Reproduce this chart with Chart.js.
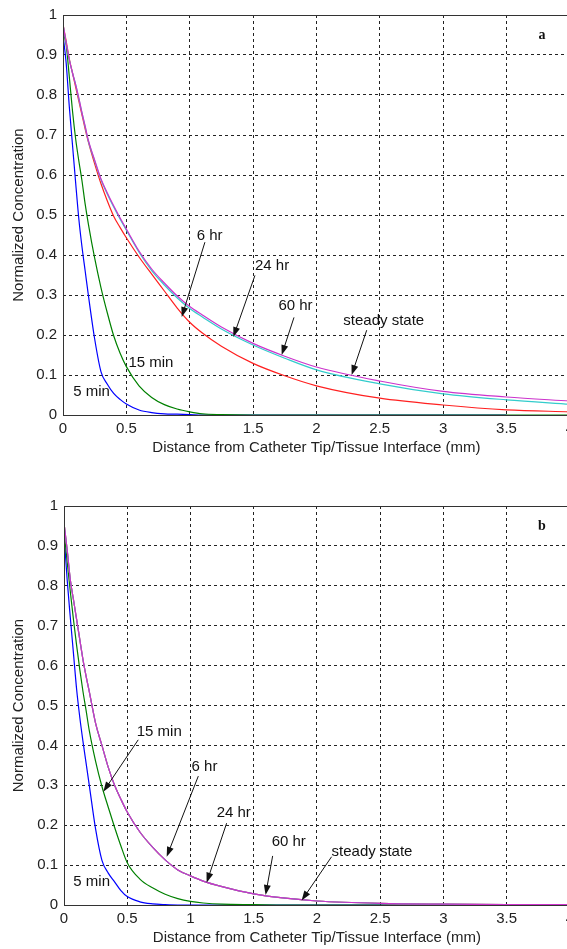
<!DOCTYPE html>
<html>
<head>
<meta charset="utf-8">
<title>Normalized concentration vs distance</title>
<script src="https://cdn.jsdelivr.net/npm/chart.js@4.4.1/dist/chart.umd.min.js"></script>
<style>
  html, body { margin: 0; padding: 0; background: #fff; overflow: hidden; }
  canvas { position: absolute; left: 0; }
</style>
</head>
<body>
<canvas id="chartA" width="579" height="470" style="top:0"></canvas>
<canvas id="chartB" width="579" height="490" style="top:470px"></canvas>
<script>
// distance from catheter tip (mm) - shared x grid for every curve
const dist = [0, 0.025, 0.05, 0.075, 0.1, 0.125, 0.15, 0.175, 0.2, 0.25, 0.3, 0.35, 0.4, 0.45, 0.5,
              0.6, 0.7, 0.8, 0.9, 1.0, 1.1, 1.25, 1.5, 1.75, 2.0, 2.5, 3.0, 3.5, 4.0];

// panel a
const fiveMinA    = [0.95, 0.88, 0.77, 0.675, 0.58, 0.49, 0.42, 0.36, 0.30, 0.19, 0.108, 0.077, 0.054, 0.039, 0.0275,
                     0.0125, 0.006, 0.003, 0.002, 0.001, 0, 0, 0, 0, 0, 0, 0, 0, null];
const fifteenMinA = [0.958, 0.925, 0.845, 0.76, 0.69, 0.635, 0.585, 0.527, 0.478, 0.392, 0.318, 0.255, 0.198, 0.155, 0.121,
                     0.073, 0.044, 0.026, 0.015, 0.008, 0.003, 0.001, 0, 0, 0, 0, 0, 0, 0];
const sixHrA      = [0.977, 0.935, 0.89, 0.855, 0.82, 0.785, 0.75, 0.715, 0.683, 0.628, 0.578, 0.535, 0.497, 0.469, 0.443,
                     0.395, 0.352, 0.31, 0.268, 0.232, 0.205, 0.172, 0.129, 0.098, 0.073, 0.042, 0.025, 0.013, 0.008];
const twentyFourHrA = [0.977, 0.93, 0.888, 0.855, 0.826, 0.79, 0.755, 0.72, 0.685, 0.635, 0.588, 0.552, 0.52, 0.49, 0.462,
                     0.407, 0.361, 0.325, 0.293, 0.266, 0.245, 0.215, 0.175, 0.142, 0.113, 0.078, 0.053, 0.038, 0.027];
const sixtyHrA    = [0.977, 0.93, 0.888, 0.855, 0.826, 0.793, 0.755, 0.722, 0.687, 0.637, 0.59, 0.555, 0.523, 0.493, 0.465,
                     0.41, 0.365, 0.33, 0.298, 0.271, 0.25, 0.22, 0.179, 0.147, 0.12, 0.085, 0.059, 0.045, 0.035];

// panel b - the 6/24/60 hr and steady state curves sit on top of each other
const fiveMinB    = [0.93, 0.815, 0.72, 0.63, 0.54, 0.47, 0.41, 0.355, 0.30, 0.19, 0.112, 0.08, 0.058, 0.036, 0.021,
                     0.008, 0.003, 0.001, 0, 0, 0, 0, 0, 0, 0, 0, 0, 0, null];
const fifteenMinB = [0.94, 0.86, 0.785, 0.715, 0.65, 0.59, 0.535, 0.487, 0.437, 0.36, 0.297, 0.245, 0.195, 0.148, 0.106,
                     0.065, 0.043, 0.027, 0.016, 0.009, 0.005, 0.002, 0.001, 0, 0, 0, 0, 0, 0];
const hoursB      = [0.958, 0.89, 0.815, 0.765, 0.715, 0.665, 0.615, 0.573, 0.535, 0.455, 0.40, 0.345, 0.30, 0.265, 0.233,
                     0.183, 0.145, 0.113, 0.088, 0.073, 0.06, 0.046, 0.028, 0.017, 0.01, 0.004, 0.002, 0.001, 0.001];

const xTicks = [0, 0.5, 1, 1.5, 2, 2.5, 3, 3.5, 4];
const yTicks = [0, 0.1, 0.2, 0.3, 0.4, 0.5, 0.6, 0.7, 0.8, 0.9, 1];

// curve labels + arrows, in data units
const labelsA = [
  { text: "5 min", x: 0.081, y: 0.058 },
  { text: "15 min", x: 0.516, y: 0.131 },
  { text: "6 hr", x: 1.055, y: 0.449 },
  { text: "24 hr", x: 1.515, y: 0.372 },
  { text: "60 hr", x: 1.70, y: 0.272 },
  { text: "steady state", x: 2.212, y: 0.235 }
];
const arrowsA = [
  [1.12, 0.432, 0.937, 0.245],
  [1.515, 0.349, 1.344, 0.195],
  [1.823, 0.244, 1.726, 0.150],
  [2.397, 0.212, 2.278, 0.100]
];
const labelsB = [
  { text: "5 min", x: 0.074, y: 0.058 },
  { text: "15 min", x: 0.575, y: 0.434 },
  { text: "6 hr", x: 1.009, y: 0.345 },
  { text: "24 hr", x: 1.207, y: 0.232 },
  { text: "60 hr", x: 1.642, y: 0.157 },
  { text: "steady state", x: 2.116, y: 0.132 }
];
const arrowsB = [
  [0.587, 0.414, 0.311, 0.284],
  [1.062, 0.323, 0.812, 0.121],
  [1.286, 0.205, 1.128, 0.056],
  [1.650, 0.123, 1.594, 0.025],
  [2.116, 0.121, 1.879, 0.011]
];

const FONT = "'Liberation Sans', Arial, sans-serif";

function drawArrow(ctx, x1, y1, x2, y2) {
  const ang = Math.atan2(y2 - y1, x2 - x1);
  const head = 10, half = 3.5;
  const c = Math.cos(ang), s = Math.sin(ang);
  ctx.beginPath();
  ctx.moveTo(x1, y1);
  ctx.lineTo(x2 - head * c * 0.7, y2 - head * s * 0.7);
  ctx.stroke();
  ctx.beginPath();
  ctx.moveTo(x2, y2);
  ctx.lineTo(x2 - head * c + half * s, y2 - head * s - half * c);
  ctx.lineTo(x2 - head * c - half * s, y2 - head * s + half * c);
  ctx.closePath();
  ctx.fill();
}

// box round the axes, labels, arrows and the panel letter
const notesPlugin = {
  id: "notes",
  afterDatasetsDraw(chart, args, opts) {
    const { ctx, chartArea: a } = chart;
    const x = chart.scales.x, y = chart.scales.y;
    ctx.save();
    ctx.strokeStyle = "#333";
    ctx.lineWidth = 1;
    ctx.strokeRect(Math.round(a.left) + 0.5, Math.round(a.top) + 0.5, a.right - a.left, a.bottom - a.top);

    ctx.fillStyle = "#111";
    ctx.strokeStyle = "#111";
    ctx.font = "15px " + FONT;
    ctx.textAlign = "left";
    ctx.textBaseline = "middle";
    opts.labels.forEach(l => ctx.fillText(l.text, x.getPixelForValue(l.x), y.getPixelForValue(l.y)));
    opts.arrows.forEach(r => drawArrow(ctx,
      x.getPixelForValue(r[0]), y.getPixelForValue(r[1]),
      x.getPixelForValue(r[2]), y.getPixelForValue(r[3])));

    ctx.font = "bold 14px 'Liberation Serif', 'Times New Roman', serif";
    ctx.textAlign = "center";
    ctx.fillText(opts.letter, x.getPixelForValue(3.78), y.getPixelForValue(0.95));
    ctx.restore();
  }
};

function makeSeries(list) {
  return list.map((s, idx) => ({
    label: s.label,
    data: dist.map((d, i) => ({ x: d, y: s.values[i] })),
    borderColor: s.color,
    borderWidth: 1.2,
    pointRadius: 0,
    fill: false,
    cubicInterpolationMode: "monotone",
    order: list.length - idx // later curves end up on top
  }));
}

function gridColor(ctx, lo, hi) {
  const v = ctx.tick ? ctx.tick.value : null;
  return (v === lo || v === hi) ? "rgba(0,0,0,0)" : "#222";
}

function buildChart(canvasId, series, labels, arrows, letter, leftWidth, topPad) {
  const ctx = document.getElementById(canvasId).getContext("2d");
  return new Chart(ctx, {
    type: "line",
    data: { datasets: makeSeries(series) },
    plugins: [notesPlugin],
    options: {
      responsive: false,
      animation: false,
      devicePixelRatio: 1,
      layout: { padding: { top: topPad, right: 5, left: 0, bottom: 0 } },
      plugins: {
        legend: { display: false },
        tooltip: { enabled: false },
        notes: { labels, arrows, letter }
      },
      scales: {
        x: {
          type: "linear",
          min: 0, max: 4,
          afterBuildTicks: s => { s.ticks = xTicks.map(v => ({ value: v })); },
          afterFit: s => { s.height = 55; },
          grid: { color: c => gridColor(c, 0, 4), drawTicks: false, lineWidth: 1 },
          border: { display: false, dash: [3, 3] },
          ticks: { color: "#222", padding: 5, font: { size: 15, family: FONT }, callback: v => String(v), maxRotation: 0 },
          title: {
            display: true,
            text: "Distance from Catheter Tip/Tissue Interface (mm)",
            color: "#222",
            font: { size: 15, family: FONT },
            padding: { top: 0, bottom: 13 }
          }
        },
        y: {
          min: 0, max: 1,
          afterBuildTicks: s => { s.ticks = yTicks.map(v => ({ value: v })); },
          afterFit: s => { s.width = leftWidth; },
          grid: { color: c => gridColor(c, 0, 1), drawTicks: false, lineWidth: 1 },
          border: { display: false, dash: [3, 3] },
          ticks: { color: "#222", padding: 6, font: { size: 15, family: FONT }, callback: v => String(+v.toFixed(1)) },
          title: {
            display: true,
            text: "Normalized Concentration",
            color: "#222",
            font: { size: 15, family: FONT },
            padding: { top: 10, bottom: 0 }
          }
        }
      }
    }
  });
}

buildChart("chartA", [
  { label: "5 min", values: fiveMinA, color: "#0000ff" },
  { label: "15 min", values: fifteenMinA, color: "#008000" },
  { label: "6 hr", values: sixHrA, color: "#ff2020" },
  { label: "24 hr", values: twentyFourHrA, color: "#33cccc" },
  { label: "60 hr", values: sixtyHrA, color: "#cc33cc" }
], labelsA, arrowsA, "a", 63, 14);

buildChart("chartB", [
  { label: "5 min", values: fiveMinB, color: "#0000ff" },
  { label: "15 min", values: fifteenMinB, color: "#008000" },
  { label: "6 hr", values: hoursB, color: "#ff2020" },
  { label: "24 hr", values: hoursB, color: "#33cccc" },
  { label: "60 hr", values: hoursB, color: "#cc33cc" }
], labelsB, arrowsB, "b", 64, 36);
</script>
</body>
</html>
